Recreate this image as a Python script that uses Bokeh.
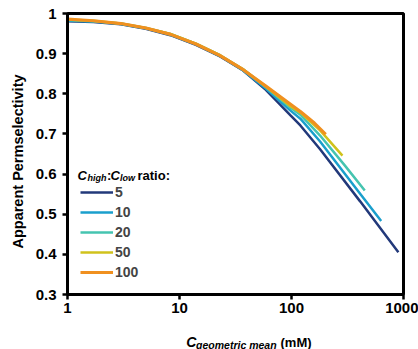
import math
from bokeh.plotting import figure
from bokeh.layouts import row, column
from bokeh.models import (Range1d, FixedTicker, NumeralTickFormatter, Legend, LegendItem, Label)
from bokeh.core.properties import value
from bokeh.embed import file_html
from bokeh.resources import INLINE

# ---- data ----
x_5 = [1, 1.7, 3, 5, 8.3, 14, 23, 37, 59, 98, 120, 180, 410, 900]
y_5 = [0.981, 0.979, 0.973, 0.962, 0.946, 0.922, 0.893, 0.858, 0.810, 0.746, 0.721, 0.662, 0.532, 0.405]

x_10 = [1, 1.7, 3, 5, 8.3, 14, 23, 37, 59, 98, 120, 180, 410, 632]
y_10 = [0.982, 0.980, 0.974, 0.963, 0.947, 0.923, 0.894, 0.858, 0.813, 0.758, 0.738, 0.681, 0.551, 0.483]

x_20 = [1, 1.7, 3, 5, 8.3, 14, 23, 37, 59, 98, 120, 180, 300, 451]
y_20 = [0.984, 0.981, 0.975, 0.964, 0.949, 0.925, 0.896, 0.861, 0.817, 0.765, 0.748, 0.696, 0.621, 0.559]

x_50 = [1, 1.7, 3, 5, 8.3, 14, 23, 37, 59, 98, 120, 180, 285]
y_50 = [0.985, 0.982, 0.975, 0.964, 0.949, 0.925, 0.896, 0.861, 0.818, 0.769, 0.753, 0.709, 0.646]

x_100 = [1, 1.7, 3, 5, 8.3, 14, 23, 37, 59, 98, 120, 160, 202]
y_100 = [0.986, 0.982, 0.975, 0.964, 0.948, 0.924, 0.895, 0.860, 0.819, 0.774, 0.756, 0.727, 0.699]

ratio_labels = ["5", "10", "20", "50", "100"]
x_ticks = [1, 10, 100, 1000]
y_ticks = [0.3, 0.4, 0.5, 0.6, 0.7, 0.8, 0.9, 1.0]

colors = ["#22397a", "#1a9fcc", "#45c4b0", "#d0c21c", "#f0901f"]
widths = [2.5, 2.5, 2.5, 2.5, 3.2]

FONT = "Liberation Sans"
W, H = 418, 349
YLAB_W = 30          # strip holding the y-axis title
XLAB_H = 20          # strip holding the x-axis title
L, R, T, B = 67 - YLAB_W, 15, 13, 35
PW, PH = W - YLAB_W, H - XLAB_H
X0, X1 = 1, 1000
Y0, Y1 = 0.3, 1.0
FW, FH = PW - L - R, PH - T - B

def dx(px):
    return 10 ** (math.log10(X0) + (px - L) / FW * (math.log10(X1) - math.log10(X0)))

def dy(py):
    return Y1 - (py - T) / FH * (Y1 - Y0)

p = figure(width=PW, height=PH, x_axis_type="log", output_backend="svg",
           toolbar_location=None, x_range=Range1d(X0, X1), y_range=Range1d(Y0, Y1),
           min_border_left=L, min_border_right=R, min_border_top=T, min_border_bottom=B)
p.xgrid.visible = False
p.ygrid.visible = False
p.outline_line_color = "black"
p.outline_line_width = 3
p.background_fill_color = "white"
p.border_fill_color = "white"

for ax in (p.xaxis[0], p.yaxis[0]):
    ax.axis_line_width = 3
    ax.axis_line_color = "black"
    ax.major_tick_line_width = 2.5
    ax.major_tick_in = 0
    ax.major_tick_out = 5
    ax.minor_tick_line_color = None
    ax.major_label_text_font = FONT
    ax.major_label_text_font_style = "bold"
    ax.major_label_text_font_size = "15px"
    ax.major_label_text_color = "black"

p.xaxis[0].ticker = FixedTicker(ticks=x_ticks, minor_ticks=[])
p.xaxis[0].formatter = NumeralTickFormatter(format="0")
p.xaxis[0].major_label_standoff = 3
p.yaxis[0].ticker = FixedTicker(ticks=y_ticks, minor_ticks=[])
p.yaxis[0].formatter = NumeralTickFormatter(format="0.[0]")
p.yaxis[0].major_label_standoff = 6

series = [(x_5, y_5), (x_10, y_10), (x_20, y_20), (x_50, y_50), (x_100, y_100)]
renderers = []
for (xs, ys), c, w in zip(series, colors, widths):
    r = p.line(xs, ys, line_color=c, line_width=w)
    renderers.append(r)

legend = Legend(items=[LegendItem(label=lab, renderers=[r]) for lab, r in zip(ratio_labels, renderers)],
                location=(13, 12), orientation="vertical",
                glyph_width=33, glyph_height=20, label_height=20, spacing=0, padding=0, margin=0,
                label_standoff=2, border_line_alpha=0, background_fill_alpha=0,
                label_text_font=FONT, label_text_font_style="bold", label_text_font_size="14px")
p.add_layout(legend, "center")

def lab(px, py, text, size, style="bold", **kw):
    # px, py: pixel position inside the main figure
    p.add_layout(Label(x=dx(px), y=dy(py), text=text, text_font=FONT, text_font_style=style,
                       text_font_size=size, text_color="black", **kw))

# legend title: C_high:C_low ratio:  (positions in main-figure pixels)
o = YLAB_W
lab(77 - o, 175, "C", "13px", "bold italic", text_baseline="alphabetic")
lab(87 - o, 177.5, "high", "9px", "bold italic", text_baseline="alphabetic")
lab(106.5 - o, 175, ":", "13px", "bold", text_baseline="alphabetic")
lab(110 - o, 175, "C", "13px", "bold italic", text_baseline="alphabetic")
lab(119.5 - o, 177.5, "low", "9px", "bold italic", text_baseline="alphabetic")
lab(137 - o, 175, " ratio:", "13px", "bold", text_baseline="alphabetic")

def strip(w, h):
    s = figure(width=w, height=h, output_backend="svg", toolbar_location=None,
               x_range=Range1d(0, w), y_range=Range1d(0, h),
               x_axis_location=None, y_axis_location=None,
               min_border_left=0, min_border_right=0, min_border_top=0, min_border_bottom=0)
    s.xgrid.visible = False
    s.ygrid.visible = False
    s.outline_line_color = None
    s.background_fill_color = "white"
    s.border_fill_color = "white"
    return s

# y-axis title strip
ys_ = strip(YLAB_W, H)
ys_.text(x=[17], y=[H - 161], text=["Apparent Permselectivity"], angle=math.pi / 2,
         text_font=value(FONT), text_font_style="bold", text_font_size=value("14.5px"),
         text_align="center", text_baseline="middle", text_color="black")

# x-axis title strip: C_geometric mean (mM)
xs_ = strip(PW, XLAB_H)
xs_.text(x=[167 - o], y=[H - 341.5], text=["C"], text_font=value(FONT),
         text_font_style="bold italic", text_font_size=value("14px"),
         text_baseline="alphabetic", text_color="black")
xs_.text(x=[178.5 - o], y=[H - 344], text=["geometric mean"], text_font=value(FONT),
         text_font_style="bold italic", text_font_size=value("10.5px"),
         text_baseline="alphabetic", text_color="black")
xs_.text(x=[276 - o], y=[H - 341.5], text=["(mM)"], text_font=value(FONT),
         text_font_style="bold", text_font_size=value("13px"),
         text_baseline="alphabetic", text_color="black")

layout = row(ys_, column(p, xs_, spacing=0), spacing=0)
open("out.html", "w").write(file_html(layout, INLINE))
